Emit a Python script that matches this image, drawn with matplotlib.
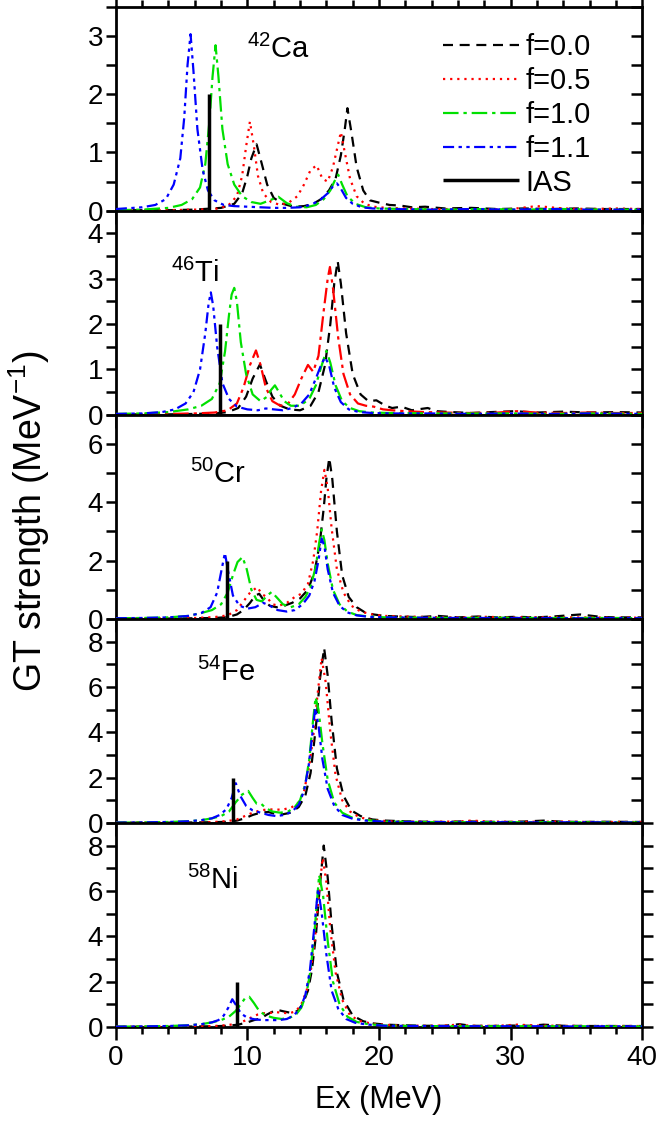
import matplotlib
matplotlib.use("Agg")
import matplotlib.pyplot as plt
from matplotlib.ticker import MultipleLocator

plt.rcParams['font.family'] = ['Liberation Sans', 'DejaVu Sans']
plt.rcParams['mathtext.fontset'] = 'custom'
plt.rcParams['mathtext.rm'] = 'Liberation Sans'
plt.rcParams['mathtext.it'] = 'Liberation Sans'
plt.rcParams['mathtext.default'] = 'regular'

# ---- 42Ca ----
ca_x0 = [0, 4, 6, 8, 9, 9.6, 10.0, 10.3, 10.7, 11.1, 11.5, 12, 12.7, 13.5, 14.3, 15, 15.6, 16.2, 16.7, 17.1, 17.4, 17.6, 17.9, 18.3, 18.8, 19.3, 20.0, 20.8, 21.6, 22.5, 23.5, 25, 27, 29, 31, 33, 35, 37, 40]
ca_y0 = [0.01, 0.01, 0.02, 0.05, 0.12, 0.3, 0.6, 0.9, 1.14, 0.8, 0.45, 0.22, 0.12, 0.07, 0.08, 0.12, 0.2, 0.35, 0.55, 0.95, 1.4, 1.76, 1.35, 0.75, 0.35, 0.18, 0.14, 0.1, 0.09, 0.06, 0.07, 0.04, 0.05, 0.03, 0.04, 0.03, 0.04, 0.03, 0.03]
ca_x5 = [0, 4, 6, 7.5, 8.5, 9.2, 9.6, 9.9, 10.19, 10.5, 10.8, 11.2, 11.8, 12.5, 13.2, 13.8, 14.3, 14.8, 15.26, 15.7, 16.1, 16.5, 16.8, 17.1, 17.4, 17.8, 18.3, 18.9, 19.6, 20.5, 22, 24, 26, 28, 30, 32, 34, 36, 38, 40]
ca_y5 = [0.01, 0.01, 0.02, 0.03, 0.08, 0.25, 0.6, 1.1, 1.53, 1.1, 0.6, 0.3, 0.15, 0.1, 0.15, 0.25, 0.45, 0.7, 0.78, 0.55, 0.5, 0.75, 1.05, 1.35, 1.0, 0.55, 0.25, 0.12, 0.07, 0.05, 0.04, 0.03, 0.03, 0.02, 0.03, 0.08, 0.04, 0.03, 0.04, 0.03]
ca_x10 = [0, 2, 4, 5, 5.8, 6.4, 6.8, 7.1, 7.35, 7.58, 7.8, 8.1, 8.5, 9.0, 9.6, 10.3, 11.0, 11.7, 12.35, 13.0, 13.7, 14.5, 15.2, 15.8, 16.3, 16.6, 16.9, 17.2, 17.6, 18.2, 19, 20, 22, 25, 28, 31, 34, 37, 40]
ca_y10 = [0.01, 0.02, 0.05, 0.1, 0.2, 0.4, 0.8, 1.5, 2.3, 2.84, 2.3, 1.4, 0.8, 0.45, 0.25, 0.15, 0.12, 0.18, 0.24, 0.13, 0.07, 0.06, 0.1, 0.2, 0.35, 0.5, 0.62, 0.45, 0.25, 0.12, 0.06, 0.04, 0.03, 0.02, 0.03, 0.02, 0.03, 0.02, 0.02]
ca_x11 = [0, 2, 3, 3.8, 4.4, 4.9, 5.2, 5.45, 5.68, 5.9, 6.2, 6.6, 7.0, 7.5, 8.2, 9, 10, 11, 12, 13, 14, 14.8, 15.5, 16.1, 16.5, 16.8, 17.1, 17.5, 18, 18.7, 19.5, 21, 24, 27, 30, 33, 36, 40]
ca_y11 = [0.03, 0.06, 0.1, 0.2, 0.45, 0.9, 1.6, 2.5, 3.03, 2.4, 1.4, 0.7, 0.35, 0.18, 0.1, 0.08, 0.07, 0.06, 0.05, 0.05, 0.06, 0.1, 0.18, 0.3, 0.42, 0.47, 0.38, 0.22, 0.12, 0.06, 0.04, 0.03, 0.02, 0.03, 0.02, 0.03, 0.02, 0.02]

# ---- 46Ti ----
ti_x0 = [0, 4, 6, 7.5, 8.5, 9.3, 9.9, 10.4, 10.95, 11.4, 11.9, 12.5, 13.2, 14, 14.8, 15.4, 15.9, 16.3, 16.6, 16.86, 17.1, 17.5, 18, 18.6, 19.2, 19.8, 20.5, 21.0, 21.7, 22.5, 23.2, 23.7, 24.4, 25.5, 27, 28.5, 30.3, 32, 34, 36, 38, 40]
ti_y0 = [0.01, 0.01, 0.02, 0.03, 0.06, 0.15, 0.4, 0.8, 1.11, 0.75, 0.4, 0.2, 0.12, 0.1, 0.2, 0.5, 1.1, 2.0, 2.9, 3.39, 2.9, 1.8, 0.9, 0.45, 0.3, 0.32, 0.2, 0.15, 0.18, 0.1, 0.13, 0.15, 0.08, 0.06, 0.04, 0.06, 0.08, 0.05, 0.07, 0.05, 0.06, 0.05]
ti_x5 = [0, 4, 6, 7.5, 8.5, 9.2, 9.7, 10.2, 10.65, 11.0, 11.4, 11.9, 12.5, 13.1, 13.6, 14.1, 14.6, 15.0, 15.4, 15.8, 16.1, 16.27, 16.5, 16.9, 17.3, 17.8, 18.4, 19, 19.6, 20.3, 21, 22, 23.5, 25, 27, 29, 30.5, 32, 34, 36, 38, 40]
ti_y5 = [0.01, 0.02, 0.03, 0.05, 0.1, 0.25, 0.6, 1.1, 1.42, 1.1, 0.6, 0.3, 0.2, 0.25, 0.45, 0.8, 1.1, 0.95, 1.3, 2.3, 3.0, 3.26, 2.8, 1.7, 0.9, 0.45, 0.25, 0.2, 0.18, 0.12, 0.1, 0.08, 0.06, 0.05, 0.04, 0.05, 0.08, 0.05, 0.04, 0.05, 0.04, 0.04]
ti_x10 = [0, 2, 4, 5.5, 6.5, 7.3, 7.9, 8.3, 8.6, 8.8, 9.0, 9.2, 9.5, 9.9, 10.4, 11.0, 11.5, 11.8, 12.09, 12.4, 12.8, 13.3, 14.0, 14.7, 15.2, 15.6, 16.0, 16.3, 16.7, 17.2, 17.8, 18.5, 19.5, 21, 24, 27, 30, 33, 36, 40]
ti_y10 = [0.02, 0.03, 0.06, 0.12, 0.2, 0.35, 0.7, 1.4, 2.2, 2.65, 2.8, 2.5, 1.6, 0.9, 0.45, 0.3, 0.4, 0.55, 0.65, 0.5, 0.3, 0.2, 0.2, 0.35, 0.65, 1.05, 1.41, 1.15, 0.65, 0.3, 0.15, 0.08, 0.05, 0.04, 0.03, 0.03, 0.03, 0.02, 0.03, 0.02]
ti_x11 = [0, 2, 3.5, 4.5, 5.3, 5.9, 6.4, 6.8, 7.05, 7.22, 7.4, 7.7, 8.1, 8.6, 9.2, 10, 10.8, 11.4, 12, 12.7, 13.4, 14.1, 14.7, 15.2, 15.6, 15.9, 16.2, 16.6, 17.1, 17.7, 18.5, 19.5, 21, 24, 27, 30, 33, 36, 40]
ti_y11 = [0.02, 0.03, 0.06, 0.12, 0.25, 0.5, 1.0, 1.8, 2.45, 2.7, 2.4, 1.5, 0.7, 0.35, 0.18, 0.12, 0.1, 0.14, 0.12, 0.1, 0.15, 0.25, 0.45, 0.8, 1.1, 1.27, 1.1, 0.6, 0.28, 0.12, 0.06, 0.04, 0.03, 0.03, 0.02, 0.03, 0.02, 0.03, 0.02]

# ---- 50Cr ----
cr_x0 = [0, 4, 6, 7.5, 8.5, 9.2, 9.7, 10.2, 10.6, 10.9, 11.3, 11.7, 12.2, 12.8, 13.4, 14.0, 14.6, 15.1, 15.5, 15.8, 16.0, 16.22, 16.45, 16.8, 17.2, 17.7, 18.3, 18.9, 19.6, 20.4, 21.5, 23, 24.5, 26, 27.5, 29, 30.5, 32, 33.5, 35.3, 37, 38.5, 40]
cr_y0 = [0.01, 0.01, 0.02, 0.03, 0.06, 0.15, 0.3, 0.55, 0.8, 0.86, 0.6, 0.45, 0.4, 0.45, 0.55, 0.7, 1.0, 1.6, 2.6, 3.8, 4.8, 5.52, 4.8, 3.0, 1.5, 0.75, 0.4, 0.23, 0.15, 0.1, 0.08, 0.06, 0.1, 0.05, 0.08, 0.05, 0.07, 0.05, 0.09, 0.15, 0.06, 0.05, 0.05]
cr_x5 = [0, 4, 6, 7.5, 8.5, 9.2, 9.7, 10.2, 10.75, 11.1, 11.46, 11.9, 12.4, 13.0, 13.6, 14.1, 14.6, 15.0, 15.3, 15.6, 15.85, 16.1, 16.4, 16.8, 17.3, 17.9, 18.6, 19.5, 20.5, 22, 24, 26, 28, 30, 32, 34, 36, 38, 40]
cr_y5 = [0.01, 0.02, 0.03, 0.06, 0.12, 0.3, 0.6, 0.9, 1.09, 0.85, 0.75, 0.5, 0.45, 0.55, 0.75, 0.86, 1.2, 2.0, 3.0, 4.4, 5.11, 4.5, 3.1, 1.7, 0.9, 0.45, 0.25, 0.15, 0.1, 0.08, 0.06, 0.05, 0.07, 0.05, 0.06, 0.05, 0.05, 0.04, 0.04]
cr_x10 = [0, 2, 4, 5.5, 6.5, 7.3, 8.0, 8.5, 8.9, 9.25, 9.63, 9.95, 10.3, 10.7, 11.1, 11.5, 11.84, 12.2, 12.7, 13.3, 13.9, 14.4, 14.8, 15.2, 15.45, 15.64, 15.85, 16.1, 16.5, 17.0, 17.6, 18.3, 19.2, 20.5, 23, 26, 29, 32, 35, 38, 40]
cr_y10 = [0.02, 0.03, 0.05, 0.1, 0.2, 0.3, 0.5, 0.9, 1.5, 1.95, 2.12, 1.7, 1.0, 0.65, 0.6, 0.8, 0.92, 0.75, 0.5, 0.4, 0.5, 0.75, 1.1, 1.8, 2.6, 3.07, 2.7, 1.9, 1.0, 0.5, 0.25, 0.13, 0.08, 0.05, 0.04, 0.03, 0.04, 0.03, 0.03, 0.03, 0.02]
cr_x11 = [0, 2, 4, 5.5, 6.5, 7.2, 7.7, 8.0, 8.29, 8.55, 8.9, 9.4, 10.0, 10.6, 11.2, 11.7, 12.3, 13.0, 13.6, 14.2, 14.7, 15.1, 15.4, 15.64, 15.85, 16.1, 16.5, 17.0, 17.6, 18.3, 19.2, 20.5, 23, 26, 29, 32, 35, 38, 40]
cr_y11 = [0.02, 0.03, 0.05, 0.1, 0.2, 0.4, 0.9, 1.6, 2.26, 1.6, 0.8, 0.45, 0.35, 0.4, 0.55, 0.45, 0.3, 0.25, 0.3, 0.5, 0.8, 1.3, 2.0, 2.76, 2.5, 1.7, 0.9, 0.45, 0.22, 0.12, 0.07, 0.05, 0.04, 0.03, 0.03, 0.03, 0.02, 0.03, 0.02]

# ---- 54Fe ----
fe_x0 = [0, 4, 6, 7.5, 8.5, 9.2, 9.8, 10.4, 11.0, 11.58, 12.1, 12.7, 13.3, 13.9, 14.4, 14.8, 15.2, 15.5, 15.83, 16.1, 16.4, 16.8, 17.3, 17.9, 18.6, 19.5, 20.5, 22, 23.5, 25, 26.5, 28, 29.5, 31, 32.5, 34, 35.5, 37, 40]
fe_y0 = [0.01, 0.01, 0.02, 0.03, 0.05, 0.1, 0.2, 0.35, 0.45, 0.48, 0.4, 0.38, 0.45, 0.7, 1.2, 2.2, 4.2, 6.3, 7.71, 6.5, 4.5, 2.4, 1.2, 0.55, 0.3, 0.15, 0.1, 0.07, 0.05, 0.04, 0.07, 0.05, 0.04, 0.06, 0.1, 0.05, 0.04, 0.05, 0.04]
fe_x5 = [0, 4, 6, 7.5, 8.5, 9.2, 9.8, 10.4, 11.0, 11.6, 12.2, 12.8, 13.4, 13.9, 14.3, 14.7, 15.0, 15.3, 15.64, 15.95, 16.3, 16.7, 17.2, 17.8, 18.5, 19.4, 20.5, 22, 24, 26, 27, 28.5, 30, 32, 34, 36, 38, 40]
fe_y5 = [0.01, 0.01, 0.02, 0.04, 0.08, 0.15, 0.3, 0.45, 0.55, 0.6, 0.58, 0.6, 0.7, 0.9, 1.4, 2.5, 3.8, 5.5, 7.27, 6.2, 4.0, 2.1, 1.0, 0.5, 0.25, 0.13, 0.08, 0.06, 0.05, 0.06, 0.1, 0.06, 0.05, 0.05, 0.06, 0.04, 0.04, 0.04]
fe_x10 = [0, 2, 4, 5.5, 6.5, 7.3, 8.0, 8.6, 9.1, 9.6, 10.06, 10.4, 10.7, 11.03, 11.4, 11.9, 12.5, 13.1, 13.6, 14.0, 14.4, 14.7, 14.95, 15.18, 15.4, 15.7, 16.1, 16.6, 17.2, 18.0, 19, 20.5, 23, 26, 29, 32, 35, 38, 40]
fe_y10 = [0.01, 0.02, 0.04, 0.07, 0.12, 0.2, 0.3, 0.5, 0.9, 1.25, 1.41, 1.1, 0.85, 0.85, 0.65, 0.5, 0.45, 0.5, 0.7, 1.0, 1.7, 2.8, 4.3, 5.54, 5.0, 3.5, 1.9, 0.9, 0.45, 0.22, 0.12, 0.06, 0.04, 0.03, 0.03, 0.03, 0.03, 0.02, 0.02]
fe_x11 = [0, 2, 4, 5.5, 6.5, 7.3, 7.9, 8.4, 8.8, 9.12, 9.45, 9.9, 10.4, 11.0, 11.6, 12.2, 12.8, 13.4, 13.9, 14.3, 14.65, 14.95, 15.15, 15.4, 15.7, 16.1, 16.6, 17.2, 18.0, 19, 20.5, 23, 26, 29, 32, 35, 38, 40]
fe_y11 = [0.01, 0.02, 0.04, 0.07, 0.12, 0.2, 0.35, 0.6, 1.1, 1.75, 1.2, 0.75, 0.55, 0.45, 0.35, 0.3, 0.35, 0.5, 0.8, 1.4, 2.5, 4.0, 5.07, 4.3, 2.8, 1.5, 0.75, 0.35, 0.18, 0.1, 0.05, 0.04, 0.03, 0.03, 0.02, 0.03, 0.02, 0.02]

# ---- 58Ni ----
ni_x0 = [0, 4, 6, 7.5, 8.5, 9.3, 10.0, 10.5, 11.0, 11.5, 12.0, 12.35, 12.8, 13.3, 13.8, 14.2, 14.6, 14.9, 15.2, 15.5, 15.8, 16.1, 16.4, 16.8, 17.3, 18.0, 18.8, 19.6, 20.5, 22, 23.5, 25, 26.1, 27, 28.5, 30, 31.5, 32.5, 34, 36, 38, 40]
ni_y0 = [0.01, 0.01, 0.02, 0.03, 0.05, 0.1, 0.2, 0.3, 0.37, 0.55, 0.7, 0.74, 0.68, 0.62, 0.7, 1.0, 1.6, 2.5, 4.0, 6.2, 8.0, 6.6, 4.5, 2.4, 1.2, 0.5, 0.25, 0.15, 0.1, 0.07, 0.05, 0.05, 0.12, 0.05, 0.04, 0.06, 0.05, 0.1, 0.05, 0.04, 0.04, 0.04]
ni_x5 = [0, 4, 6, 7.5, 8.5, 9.3, 9.9, 10.4, 10.8, 11.2, 11.7, 12.2, 12.7, 13.2, 13.7, 14.1, 14.5, 14.85, 15.15, 15.45, 15.72, 16.0, 16.3, 16.7, 17.2, 17.8, 18.6, 19.5, 20.5, 22, 23.5, 25, 26, 27, 29, 30.5, 32, 34, 36, 38, 40]
ni_y5 = [0.01, 0.01, 0.02, 0.04, 0.08, 0.15, 0.3, 0.45, 0.55, 0.6, 0.62, 0.65, 0.62, 0.6, 0.7, 1.0, 1.6, 2.6, 4.0, 6.0, 7.45, 6.4, 4.3, 2.4, 1.2, 0.5, 0.25, 0.14, 0.09, 0.06, 0.05, 0.06, 0.1, 0.05, 0.05, 0.1, 0.06, 0.05, 0.04, 0.04, 0.04]
ni_x10 = [0, 2, 4, 5.5, 6.5, 7.3, 8.0, 8.6, 9.1, 9.5, 9.8, 10.14, 10.5, 10.9, 11.4, 12.0, 12.6, 13.2, 13.7, 14.1, 14.5, 14.8, 15.1, 15.45, 15.75, 16.1, 16.5, 17.0, 17.6, 18.3, 19.2, 20.5, 23, 26, 29, 32, 35, 38, 40]
ni_y10 = [0.01, 0.02, 0.04, 0.07, 0.12, 0.2, 0.3, 0.45, 0.7, 1.0, 1.25, 1.33, 1.05, 0.7, 0.5, 0.4, 0.35, 0.4, 0.55, 0.85, 1.5, 2.5, 4.2, 6.7, 5.8, 3.8, 2.0, 1.0, 0.45, 0.22, 0.12, 0.06, 0.04, 0.03, 0.03, 0.03, 0.03, 0.02, 0.02]
ni_x11 = [0, 2, 4, 5.5, 6.5, 7.3, 7.8, 8.2, 8.55, 8.85, 9.15, 9.5, 10.0, 10.6, 11.2, 11.8, 12.4, 13.0, 13.5, 14.0, 14.4, 14.75, 15.05, 15.37, 15.65, 16.0, 16.4, 16.9, 17.5, 18.2, 19.2, 20.5, 23, 26, 29, 32, 35, 38, 40]
ni_y11 = [0.01, 0.02, 0.04, 0.07, 0.12, 0.2, 0.3, 0.5, 0.85, 1.22, 0.95, 0.6, 0.4, 0.33, 0.3, 0.3, 0.3, 0.35, 0.5, 0.8, 1.4, 2.5, 4.2, 6.1, 5.0, 3.2, 1.6, 0.8, 0.35, 0.18, 0.1, 0.05, 0.04, 0.03, 0.03, 0.03, 0.02, 0.03, 0.02]

nuclei = ["42Ca", "46Ti", "50Cr", "54Fe", "58Ni"]
ias_energy = [7.1, 7.95, 8.48, 8.87, 9.23]
ias_height = 2.0
ymax = [3.5, 4.5, 7.0, 9.0, 9.0]
ymajor = [1, 1, 2, 2, 2]
label_pos = [(10.0, 2.62), (4.2, 2.92), (5.6, 4.65), (6.2, 6.25), (5.4, 6.1)]

curves = {
    "42Ca": [(ca_x0, ca_y0), (ca_x5, ca_y5), (ca_x10, ca_y10), (ca_x11, ca_y11)],
    "46Ti": [(ti_x0, ti_y0), (ti_x5, ti_y5), (ti_x10, ti_y10), (ti_x11, ti_y11)],
    "50Cr": [(cr_x0, cr_y0), (cr_x5, cr_y5), (cr_x10, cr_y10), (cr_x11, cr_y11)],
    "54Fe": [(fe_x0, fe_y0), (fe_x5, fe_y5), (fe_x10, fe_y10), (fe_x11, fe_y11)],
    "58Ni": [(ni_x0, ni_y0), (ni_x5, ni_y5), (ni_x10, ni_y10), (ni_x11, ni_y11)],
}

f_labels = ["f=0.0", "f=0.5", "f=1.0", "f=1.1"]
colors = ["black", "#ff0000", "#00e000", "#0000ff"]
dashdot = (0, (7, 2.2, 1.5, 2.2))
styles = [(0, (4.5, 3)), (0, (1.0, 2.2)), dashdot, (0, (5, 2, 1.5, 2, 1.5, 2))]

fig, axes = plt.subplots(5, 1, sharex=True, figsize=(6.58, 11.26), dpi=100)
fig.subplots_adjust(left=0.176, right=0.976, top=0.994, bottom=0.088, hspace=0)

for i, (ax, nuc) in enumerate(zip(axes, nuclei)):
    for j, (x, y) in enumerate(curves[nuc]):
        ls = styles[j]
        if nuc == "46Ti" and j == 1:
            ls = dashdot
        ax.plot(x, y, color=colors[j], ls=ls, lw=1.6, label=f_labels[j], zorder=3 + j)
    ax.plot([ias_energy[i], ias_energy[i]], [0, ias_height], color="black", lw=2.5,
            solid_capstyle="butt", label="IAS", zorder=8)

    ax.set_xlim(0, 40)
    ax.set_ylim(0, ymax[i])
    ax.xaxis.set_major_locator(MultipleLocator(10))
    ax.xaxis.set_minor_locator(MultipleLocator(2))
    ax.yaxis.set_major_locator(MultipleLocator(ymajor[i]))
    ax.yaxis.set_minor_locator(MultipleLocator(ymajor[i] / 2))
    for s in ax.spines.values():
        s.set_linewidth(2)

    right_dir = "out" if i == 4 else "in"
    ax.tick_params(axis="y", which="both", left=True, right=False, direction="out",
                   length=7, width=1.8, labelsize=20, pad=2)
    ax.tick_params(axis="x", which="major", bottom=True, top=(i == 0), direction="out",
                   length=9, width=1.8, labelsize=20, pad=4)
    ax.tick_params(axis="x", which="minor", bottom=True, top=(i == 0), direction="out",
                   length=5, width=1.8)
    # right-hand ticks drawn on a twin so their direction can differ
    axr = ax.twinx()
    axr.set_ylim(ax.get_ylim())
    axr.yaxis.set_major_locator(MultipleLocator(ymajor[i] / 2))
    axr.tick_params(axis="y", which="both", direction=right_dir, length=8, width=1.8,
                    labelright=False)
    for s in axr.spines.values():
        s.set_visible(False)

    num, sym = nuc[:2], nuc[2:]
    ax.text(label_pos[i][0], label_pos[i][1], rf"$^{{{num}}}$" + sym, fontsize=21,
            ha="left", va="baseline", zorder=10)

    if i == 0:
        ax.legend(loc="upper right", bbox_to_anchor=(0.902, 0.87), frameon=False,
                  fontsize=21, handlelength=2.6, handletextpad=0.22, labelspacing=0.2,
                  borderpad=0, borderaxespad=0)

axes[-1].set_xlabel("Ex (MeV)", fontsize=22, labelpad=10)
fig.text(0.045, 0.537, r"GT strength (MeV$^{-1}$)", rotation=90, fontsize=27,
         ha="center", va="center")

fig.savefig("out.png", dpi=100)
